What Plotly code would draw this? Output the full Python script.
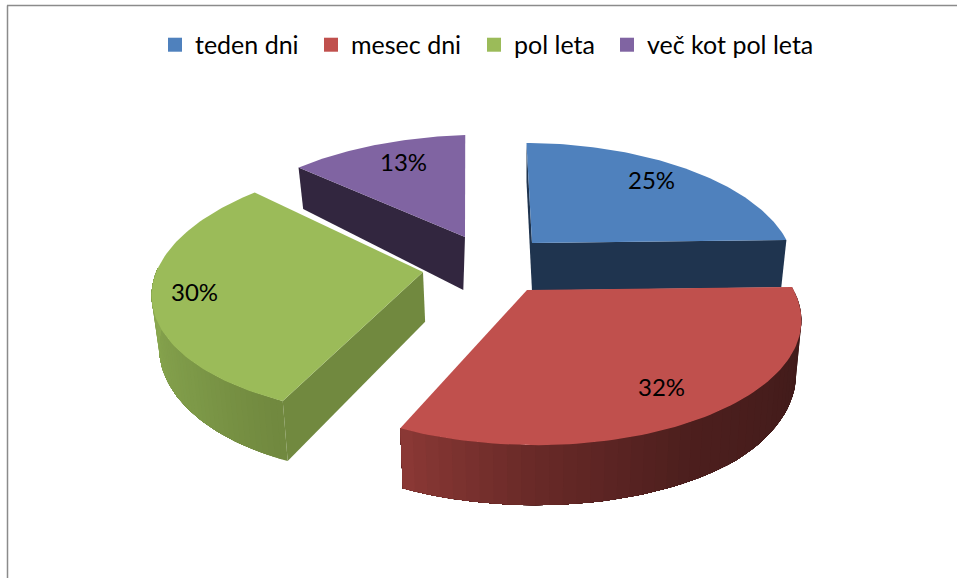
import numpy as np
import plotly.graph_objects as go

categories = ["teden dni", "mesec dni", "pol leta", "več kot pol leta"]
shares = [25, 32, 30, 13]
top_colors = ["#4F81BD", "#C0504D", "#9BBB59", "#8064A2"]
cut_colors = ["#1F344F", None, "#71893F", "#32263F"]
explode_apex = [(532, 243), (527, 290), (423, 272), (465, 237)]
radius_scale = [0.96, 1.0, 1.0, 1.0]
# per-slice projection tweaks: x-shear, y-shear, rim shift x, rim shift y
projection = [(-7, 1, 0, -4), (-12, -3, 0, 0), (0, -8, 0, -12), (-7, -8, 6, -2)]
label_pos = [(651, 179.5), (661, 386.5), (194, 291.5), (403, 161.5)]
legend_text_x = [195, 351, 514, 647]


def rim(theta, i):
    """Perspective projection of a rim point; theta clockwise from top."""
    apex, s = explode_apex[i], radius_scale[i]
    ax, by, dx, dy = projection[i]
    sn, cs = np.sin(theta), np.cos(theta)
    w = 1 + 0.216 * cs
    x = (265 * sn + ax * cs) * s / w
    y = (-121.6 * cs + by * sn) * s / w
    return apex[0] + x + dx, apex[1] + y + dy


def drop(x, y):
    """Where a top-face point lands on the bottom of the extruded slab."""
    depth = np.minimum(40 + (y - 150) * 0.08, 60)
    return x - (x - 530) * 0.02, y + depth


def poly(fig, xs, ys, color):
    fig.add_trace(go.Scatter(x=list(xs), y=list(ys), mode="lines", fill="toself",
                             fillcolor=color, line=dict(color=color, width=0),
                             hoverinfo="skip", showlegend=False))


def mix(a, b, t):
    a, b = np.array(a), np.array(b)
    c = a + (b - a) * t
    return "rgb(%d,%d,%d)" % tuple(c)


def curved_side(fig, t0, t1, i, stops, n=48):
    ts = np.linspace(t0, t1, n + 1)
    xs, ys = rim(ts, i)
    bx, by = drop(xs, ys)
    for k in range(n):
        pos = k / (n - 1)
        for (p0, c0), (p1, c1) in zip(stops[:-1], stops[1:]):
            if p0 <= pos <= p1:
                col = mix(c0, c1, (pos - p0) / (p1 - p0))
                break
        # each strip runs to the end of the arc, so no seams show between strips
        poly(fig, [*xs[k:], *bx[k:][::-1]], [*ys[k:], *by[k:][::-1]], col)


def cut_face(fig, i, rim_x, rim_y, extra=(0, 0)):
    ax, ay = explode_apex[i]
    bx0, by0 = drop(ax, ay)
    bx1, by1 = drop(rim_x, rim_y)
    poly(fig, [ax, rim_x, bx1, bx0 + extra[0]], [ay, rim_y, by1, by0 + extra[1]], cut_colors[i])


fig = go.Figure()
edges = np.cumsum([0] + shares) / sum(shares) * 2 * np.pi

# back to front: purple, blue, green, red
for i in [3, 0, 2, 1]:
    t = np.linspace(edges[i], edges[i + 1], 90)
    rx, ry = rim(t, i)
    ax, ay = explode_apex[i]
    if i == 3:
        cut_face(fig, 3, rx[0], ry[0], extra=(-3, 6))
    if i == 2:
        cut_face(fig, 2, rx[0], ry[0])
    if i == 0:        # both cut faces of the blue slice show
        cut_face(fig, 0, rx[0], ry[0])
        cut_face(fig, 0, rx[-1], ry[-1])
    if i == 2:
        curved_side(fig, edges[2], 1.5 * np.pi, 2,
                    [(0, (113, 137, 63)), (0.35, (125, 153, 72)), (1, (142, 172, 82))])
    if i == 1:
        curved_side(fig, 0.5 * np.pi, edges[2], 1,
                    [(0, (60, 26, 25)), (0.55, (77, 31, 30)), (0.8, (105, 42, 40)), (1, (138, 56, 53))])
    poly(fig, [ax, *rx, ax], [ay, *ry, ay], top_colors[i])

# legend entries: one legend per entry so each sits where the reference has it
legend_layout = {}
for k, (name, col, tx) in enumerate(zip(categories, top_colors, legend_text_x)):
    key = "legend" if k == 0 else f"legend{k + 1}"
    fig.add_trace(go.Scatter(x=[None], y=[None], mode="markers", name=name, legend=key,
                             marker=dict(symbol="square", size=14, color=col)))
    legend_layout[key] = dict(x=(tx - 40) / 957, xanchor="left", y=0.962, yanchor="top",
                              font=dict(family="Lato", size=25, color="#000000"),
                              itemwidth=30, bgcolor="rgba(0,0,0,0)")

for share, (x, y) in zip(shares, label_pos):
    fig.add_annotation(x=x, y=y, text=f"{share}%", showarrow=False,
                       font=dict(family="Lato", size=24, color="#000000"))

# chart frame
fig.add_shape(type="line", x0=7.5, x1=7.5, y0=5.5, y1=578, line=dict(color="#8B8B8B", width=1.5))
fig.add_shape(type="line", x0=7, x1=957, y0=5.5, y1=5.5, line=dict(color="#8B8B8B", width=1.5))

fig.update_layout(
    width=957, height=578, margin=dict(l=0, r=0, t=0, b=0),
    paper_bgcolor="#FFFFFF", plot_bgcolor="#FFFFFF",
    xaxis=dict(range=[0, 957], visible=False, fixedrange=True),
    yaxis=dict(range=[578, 0], visible=False, fixedrange=True),
    hovermode=False,
    **legend_layout,
)
fig.write_html("out.html", config={"displayModeBar": False},
               post_script="document.body.style.margin='0';document.body.style.overflow='hidden';")
